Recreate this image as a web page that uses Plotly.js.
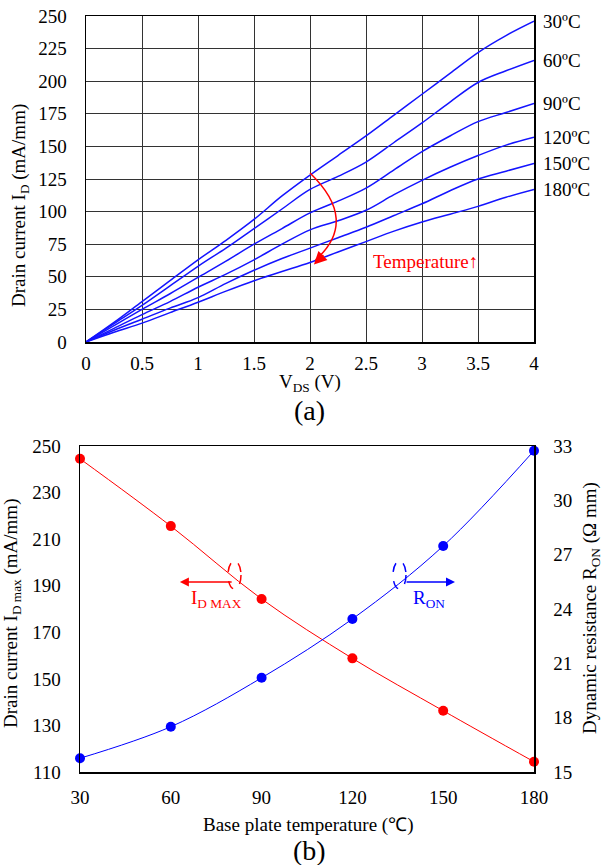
<!DOCTYPE html>
<html><head><meta charset="utf-8">
<script src="https://cdn.plot.ly/plotly-3.0.1.min.js"></script>
<style>html,body{margin:0;padding:0;background:#fff}#chart{width:608px;height:865px}</style>
</head><body><div id="chart"></div>
<script>
// ---- (a) I-V curves ----
const vds = [0,0.25,0.5,0.75,1,1.25,1.5,1.75,2,2.25,2.5,2.75,3,3.25,3.5,3.75,4];
const id30  = [0,15,31,47,63,78,94,112,128,143,158,174,190,206,222,235,246];
const id60  = [0,14,28,43,58,72,87,102,117,127,138,153,168,184,199,208,216];
const id90  = [0,12.5,25,37,49.5,62,75,87,99,108,118,132,146,158,169,176,183];
const id120 = [0,10.5,21,31,42,52,63,75,86,93,101,113,124,134,143,151,157];
const id150 = [0,9,17.5,26,34,45,55,64,72,80,88,97,106,116,125,131,137];
const id180 = [0,7.5,14.5,22.5,30.5,39,47,54,61,69,77,85,92,98,104,111,117];
const curveLabels = ['30ºC','60ºC','90ºC','120ºC','150ºC','180ºC'];
const curves = [id30,id60,id90,id120,id150,id180];

// ---- (b) temperature dependence ----
const baseTemp = [30,60,90,120,150,180];
const idMax = [244.5,215.6,184.3,158.8,136.3,114.4];
const ron   = [15.76,17.5,20.2,23.45,27.48,32.74];

const W = 608, H = 865;
const px = x => x / W;
const py = y => 1 - y / H;
const FONT = '"Liberation Serif", "Times New Roman", serif';

const traces = [];
curves.forEach((c, i) => {
  traces.push({x: vds, y: c, xaxis: 'x', yaxis: 'y', mode: 'lines', name: curveLabels[i],
    line: {color: '#1414ff', width: 1.5, shape: 'spline', smoothing: 1}, hoverinfo: 'skip'});
});
traces.push({x: baseTemp, y: idMax, xaxis: 'x2', yaxis: 'y2', mode: 'lines+markers', cliponaxis: false,
  line: {color: '#ff0000', width: 1, shape: 'spline'}, marker: {color: '#ff0000', size: 10}});
traces.push({x: baseTemp, y: ron, xaxis: 'x2', yaxis: 'y3', mode: 'lines+markers', cliponaxis: false,
  line: {color: '#0000ff', width: 1, shape: 'spline'}, marker: {color: '#0000ff', size: 10}});

const tickFont = () => ({family: FONT, size: 19, color: '#000'});
const ann = [];
function txt(x, y, text, opts) {
  ann.push(Object.assign({xref: 'paper', yref: 'paper', x: px(x), y: py(y), text: text,
    xanchor: 'center', yanchor: 'middle', showarrow: false,
    font: {family: FONT, size: 19, color: '#000'}}, opts || {}));
}
// curve labels
curves.forEach((c, i) => {
  ann.push({xref: 'paper', yref: 'y', x: px(541), y: c[c.length - 1], xanchor: 'left', yanchor: 'middle',
    text: curveLabels[i], showarrow: false, font: {family: FONT, size: 19, color: '#000'}});
});
// titles
txt(20, 206, 'Drain current I<sub>D</sub> (mA/mm)', {textangle: -90});
txt(310, 383, 'V<sub>DS</sub> (V)');
txt(310, 411, '(a)', {font: {family: FONT, size: 28, color: '#000'}});
txt(12, 614, 'Drain current I<sub>D max</sub> (mA/mm)', {textangle: -90});
txt(591, 608, 'Dynamic resistance R<sub>ON</sub> (Ω mm)', {textangle: -90});
txt(308, 825, 'Base plate temperature (℃)');
txt(309, 850, '(b)', {font: {family: FONT, size: 28, color: '#000'}});
txt(425, 262, 'Temperature↑', {font: {family: FONT, size: 19, color: '#ff0000'}});
txt(216, 599, 'I<sub>D MAX</sub>', {font: {family: FONT, size: 19, color: '#ff0000'}});
txt(429, 599, 'R<sub>ON</sub>', {font: {family: FONT, size: 19, color: '#0000ff'}});
// Temperature arrow (a)
ann.push({xref: 'x', yref: 'y', x: 2.035, y: 59.5, ax: 11, ay: -11, text: '', showarrow: true,
  arrowhead: 2, arrowsize: 1.7, arrowwidth: 1.5, arrowcolor: '#ff0000', standoff: 0});
// (b) arrows
ann.push({xref: 'x2', yref: 'y2', axref: 'x2', ayref: 'y2', x: 63.0, y: 191.6, ax: 80.6, ay: 191.6,
  text: '', showarrow: true, arrowhead: 2, arrowsize: 1.2, arrowwidth: 1.5, arrowcolor: '#ff0000', standoff: 0});
ann.push({xref: 'x2', yref: 'y2', axref: 'x2', ayref: 'y2', x: 153.9, y: 191.6, ax: 137.4, ay: 191.6,
  text: '', showarrow: true, arrowhead: 2, arrowsize: 1.2, arrowwidth: 1.5, arrowcolor: '#0000ff', standoff: 0});

const shapes = [
  {type: 'path', xref: 'x', yref: 'y', path: 'M2,129.6 Q2.442,92.9 2.05,63',
    line: {color: '#ff0000', width: 1.5}},
  {type: 'circle', xref: 'paper', yref: 'paper', x0: px(228), x1: px(241), y0: py(589), y1: py(561),
    line: {color: '#ff0000', width: 1.5, dash: 'dash'}},
  {type: 'circle', xref: 'paper', yref: 'paper', x0: px(393), x1: px(406), y0: py(589), y1: py(561),
    line: {color: '#0000ff', width: 1.5, dash: 'dash'}}
];

const layout = {
  width: W, height: H, margin: {l: 0, r: 0, t: 0, b: 0},
  paper_bgcolor: '#fff', plot_bgcolor: '#fff', showlegend: false,
  font: {family: FONT, color: '#000'},
  xaxis: {domain: [px(86), px(534)], anchor: 'y', range: [0, 4], dtick: 0.5, tick0: 0,
    showgrid: true, gridcolor: '#333', gridwidth: 1, zeroline: false, showline: true, linecolor: '#000',
    linewidth: 1.5, mirror: true, ticks: '', tickfont: tickFont(), ticklabelstandoff: 4},
  yaxis: {domain: [py(342), py(16)], anchor: 'x', range: [0, 250], dtick: 25, tick0: 0,
    showgrid: true, gridcolor: '#333', gridwidth: 1, zeroline: false, showline: true, linecolor: '#000',
    linewidth: 1.5, mirror: true, ticks: '', tickfont: tickFont(), ticklabelstandoff: 14},
  xaxis2: {domain: [px(80), px(534)], anchor: 'y2', range: [30, 180], dtick: 30, tick0: 30,
    showgrid: false, zeroline: false, showline: true, linecolor: '#000', linewidth: 1.5, mirror: true,
    ticks: '', tickfont: tickFont(), ticklabelstandoff: 8},
  yaxis2: {domain: [py(772), py(446)], anchor: 'x2', range: [110, 250], dtick: 20, tick0: 110,
    showgrid: false, zeroline: false, showline: true, linecolor: '#000', linewidth: 1.5,
    ticks: '', tickfont: tickFont(), ticklabelstandoff: 14},
  yaxis3: {overlaying: 'y2', anchor: 'x2', side: 'right', range: [15, 33], dtick: 3, tick0: 15,
    showgrid: false, zeroline: false, showline: true, linecolor: '#000', linewidth: 1.5,
    ticks: '', tickfont: tickFont(), ticklabelstandoff: 14},
  annotations: ann,
  shapes: shapes
};

Plotly.newPlot('chart', traces, layout, {staticPlot: true, displayModeBar: false});
</script>
</body></html>
